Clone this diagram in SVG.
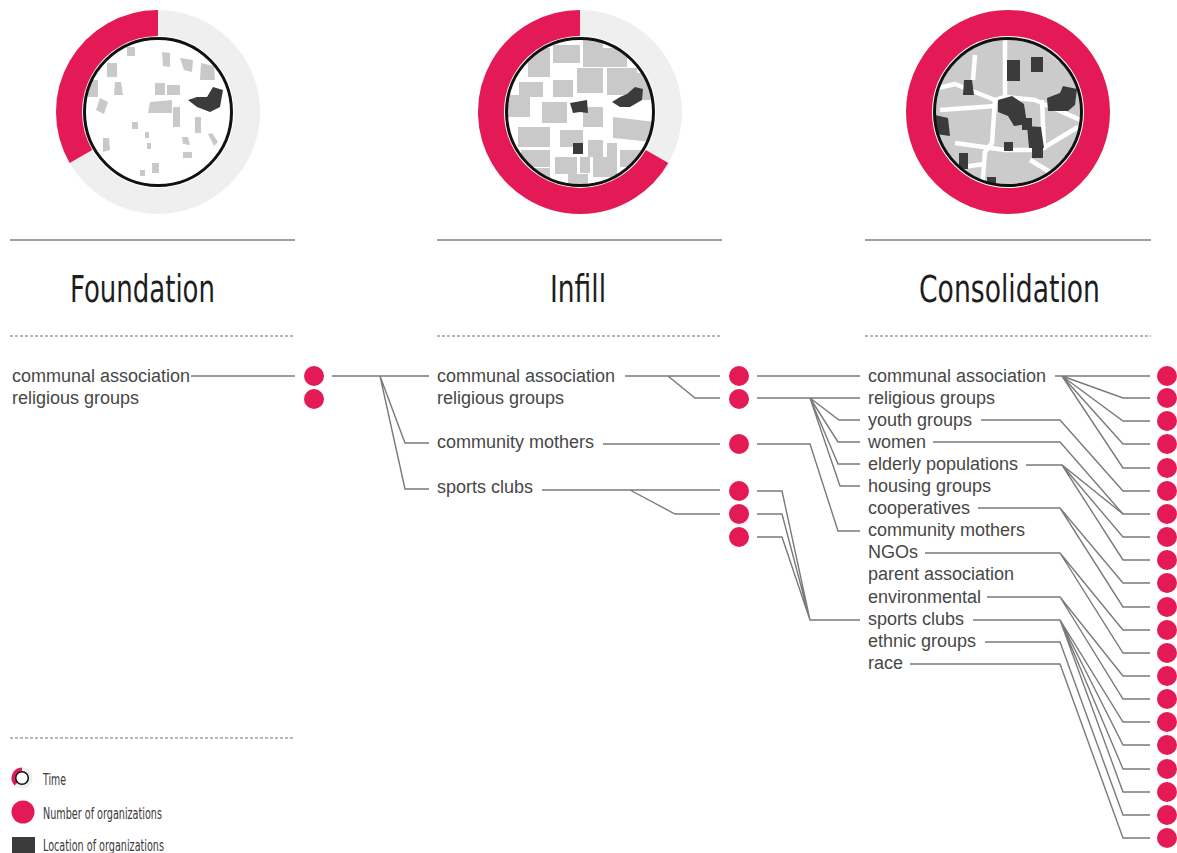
<svg xmlns="http://www.w3.org/2000/svg" width="1177" height="853" viewBox="0 0 1177 853">
<style>
.lbl{font-family:"Liberation Sans",Arial,sans-serif;font-size:18px;fill:#474747}
.ttl{font-family:"Liberation Sans Narrow","DejaVu Sans Condensed","Liberation Sans",sans-serif;font-size:37px;fill:#1e1e1e}
.leg{font-family:"Liberation Sans Narrow","DejaVu Sans Condensed","Liberation Sans",sans-serif;font-size:15.5px;fill:#3a3a3a}
.rule{stroke:#808080;stroke-width:1.5;fill:none}
.dash{stroke:#707070;stroke-width:1.2;stroke-dasharray:3 2;fill:none}
.con{stroke:#7a7a7a;stroke-width:1.4;fill:none}
.dot{fill:#e41a56}
.ringbg{fill:none;stroke:#efefef;stroke-width:26}
.ringfg{fill:none;stroke:#e41a56;stroke-width:26}
.edge{fill:none;stroke:#111;stroke-width:3}
.bg{fill:#c9c9c9}
.dk{fill:#3b3b3b}
</style>
<defs>
<clipPath id="c1"><circle cx="158" cy="112" r="73"/></clipPath>
<clipPath id="c2"><circle cx="580" cy="112" r="73"/></clipPath>
<clipPath id="c3"><circle cx="1008" cy="112" r="73"/></clipPath>
</defs>
<rect width="1177" height="853" fill="#fff"/>

<!-- Foundation ring -->
<g id="ring-foundation">
<circle class="ringbg" cx="158" cy="112" r="89"/>
<path class="ringfg" d="M80.92 156.5 A89 89 0 0 1 158 23"/>
<circle cx="158" cy="112" r="73" fill="#fff"/>
<g clip-path="url(#c1)">
<rect class="bg" x="127" y="47" width="8" height="9"/>
<rect class="bg" x="107" y="63" width="10" height="14"/>
<rect class="bg" x="88" y="80" width="10" height="17"/>
<polygon class="bg" points="115,82 121,82 123,95 114,95"/>
<polygon class="bg" points="100,98 108,102 104,114 96,110"/>
<polygon class="bg" points="162,52 170,53 170,67 163,66"/>
<polygon class="bg" points="180,58 193,60 192,72 184,70"/>
<polygon class="bg" points="201,63 214,66 215,80 200,80"/>
<rect class="bg" x="155" y="83" width="10" height="12"/>
<rect class="bg" x="167" y="85" width="13" height="10"/>
<polygon class="bg" points="150,102 172,100 172,113 148,113"/>
<rect class="bg" x="173" y="107" width="7" height="20"/>
<rect class="bg" x="132" y="122" width="6" height="7"/>
<rect class="bg" x="145" y="132" width="4" height="6"/>
<rect class="bg" x="147" y="143" width="4" height="6"/>
<polygon class="bg" points="103,138 109,138 110,150 103,152"/>
<polygon class="bg" points="182,137 188,137 190,145 183,144"/>
<rect class="bg" x="195" y="117" width="6" height="16"/>
<polygon class="bg" points="208,134 212,133 218,142 214,146"/>
<rect class="bg" x="183" y="152" width="9" height="6"/>
<rect class="bg" x="152" y="163" width="7" height="10"/>
<rect class="bg" x="140" y="170" width="5" height="6"/>
<polygon class="dk" points="188,100 197,97 207,97 213,87 223,90 220,107 210,112 197,107"/>
</g>
<circle class="edge" cx="158" cy="112" r="73.5"/>
</g>

<!-- Infill ring -->
<g id="ring-infill">
<circle class="ringbg" cx="580" cy="112" r="89"/>
<path class="ringfg" d="M657.08 156.5 A89 89 0 1 1 580 23"/>
<circle cx="580" cy="112" r="73" fill="#fff"/>
<g clip-path="url(#c2)">
<rect class="bg" x="553" y="45" width="27" height="18"/>
<rect class="bg" x="583" y="40" width="20" height="27"/>
<rect class="bg" x="603" y="48" width="24" height="19"/>
<rect class="bg" x="528" y="48" width="22" height="29"/>
<rect class="bg" x="519" y="82" width="24" height="15"/>
<rect class="bg" x="506" y="95" width="24" height="22"/>
<rect class="bg" x="553" y="80" width="20" height="17"/>
<rect class="bg" x="577" y="68" width="26" height="25"/>
<rect class="bg" x="607" y="68" width="30" height="27"/>
<rect class="bg" x="634" y="73" width="20" height="27"/>
<rect class="bg" x="542" y="102" width="25" height="21"/>
<rect class="bg" x="583" y="107" width="20" height="20"/>
<polygon class="bg" points="613,117 655,122 652,142 613,138"/>
<rect class="bg" x="518" y="127" width="32" height="20"/>
<rect class="bg" x="521" y="150" width="29" height="17"/>
<rect class="bg" x="560" y="130" width="23" height="17"/>
<rect class="bg" x="588" y="140" width="15" height="17"/>
<rect class="bg" x="607" y="143" width="10" height="14"/>
<rect class="bg" x="555" y="157" width="22" height="17"/>
<rect class="bg" x="580" y="157" width="10" height="16"/>
<rect class="bg" x="593" y="157" width="24" height="20"/>
<rect class="bg" x="620" y="150" width="24" height="17"/>
<rect class="bg" x="568" y="174" width="20" height="12"/>
<rect class="bg" x="530" y="168" width="20" height="12"/>
<polygon class="dk" points="570,103 587,100 588,113 580,112 573,113"/>
<polygon class="dk" points="612,102 620,97 627,94 635,87 643,89 642,100 630,107 620,107"/>
<rect class="dk" x="573" y="143" width="10" height="11"/>
</g>
<circle class="edge" cx="580" cy="112" r="73.5"/>
</g>

<!-- Consolidation ring -->
<g id="ring-consolidation">
<circle class="ringfg" cx="1008" cy="112" r="89"/>
<circle cx="1008" cy="112" r="73" fill="#fff"/>
<g clip-path="url(#c3)">
<circle cx="1008" cy="112" r="73" fill="#cbcbcb"/>
<g stroke="#fff" stroke-width="4.5" fill="none" stroke-linejoin="round">
<polyline points="930,90 955,84 995,100 1005,97 1035,100 1085,122"/>
<polyline points="1005,35 1005,97"/>
<polyline points="995,100 992,143 985,152 982,190"/>
<polyline points="940,110 995,106"/>
<polyline points="955,143 1005,150 1040,150 1078,127"/>
<polyline points="1042,100 1044,150"/>
<polyline points="975,55 973,80"/>
<polyline points="940,170 985,164"/>
<polyline points="1030,160 1060,178"/>
<polyline points="1040,42 1060,60"/>
</g>
<rect class="dk" x="1007" y="60" width="13" height="21"/>
<rect class="dk" x="1031" y="57" width="12" height="15"/>
<polygon class="dk" points="964,80 972,80 974,95 963,95"/>
<polygon class="dk" points="998,100 1012,96 1024,104 1027,124 1014,126 1008,116 998,112"/>
<polygon class="dk" points="1047,98 1060,93 1063,86 1077,89 1075,105 1068,111 1048,111"/>
<polygon class="dk" points="1027,126 1041,127 1044,148 1029,148"/>
<rect class="dk" x="1032" y="148" width="11" height="10"/>
<rect class="dk" x="1004" y="142" width="9" height="9"/>
<polygon class="dk" points="935,115 948,118 950,136 936,134"/>
<rect class="dk" x="959" y="153" width="9" height="16"/>
<rect class="dk" x="987" y="177" width="9" height="8"/>
<rect class="dk" x="1022" y="118" width="10" height="12"/>
</g>
<circle class="edge" cx="1008" cy="112" r="73.5"/>
</g>

<!-- rules -->
<g id="rules">
<line class="rule" x1="10" y1="240" x2="295" y2="240"/>
<line class="rule" x1="437" y1="240" x2="722" y2="240"/>
<line class="rule" x1="865" y1="240" x2="1151" y2="240"/>
<line class="dash" x1="10" y1="336" x2="295" y2="336"/>
<line class="dash" x1="437" y1="336" x2="722" y2="336"/>
<line class="dash" x1="865" y1="336" x2="1151" y2="336"/>
<line class="dash" x1="10" y1="738" x2="295" y2="738"/>
</g>

<!-- titles -->
<g id="title-foundation"><text class="ttl" x="70" y="302" textLength="145" lengthAdjust="spacingAndGlyphs">Foundation</text></g>
<g id="title-infill"><text class="ttl" x="550" y="302" textLength="56" lengthAdjust="spacingAndGlyphs">Infill</text></g>
<g id="title-consolidation"><text class="ttl" x="919" y="302" textLength="181" lengthAdjust="spacingAndGlyphs">Consolidation</text></g>

<!-- connectors -->
<g id="connectors">
<path class="con" d="M191 376 H295"/>
<path class="con" d="M332 376 H429 M380 376 L405 443 H429 M380 376 L405 489 H429"/>
<path class="con" d="M625 376 H720 M668 376 L695 398 H720"/>
<path class="con" d="M603 444 H720"/>
<path class="con" d="M542 490 H720 M630 490 L675 514 H720"/>
<path class="con" d="M757 376 H860"/>
<path class="con" d="M757 398 H860 M810 398 L839 420 H860 M810 398 L838 442 H860 M810 398 L838 464 H860 M810 398 L840 486 H860"/>
<path class="con" d="M757 444 H810 L838 531 H860"/>
<path class="con" d="M757 491 H782 L810 620 H860 M757 514 H782 L810 620 M757 537 H782 L810 620"/>
<path class="con" d="M1055 376 H1150 M1062 376 L1123 398 H1150 M1062 376 L1123 421 H1150 M1062 376 L1123 444 H1150 M1062 376 L1123 468 H1150"/>
<path class="con" d="M981 420 H1060 L1123 491 H1150"/>
<path class="con" d="M933 442 H1060 L1123 514 H1150"/>
<path class="con" d="M1026 465 H1062 L1123 514 M1062 465 L1123 537 H1150 M1062 465 L1123 560 H1150"/>
<path class="con" d="M978 508 H1060 L1123 583 H1150 M1060 508 L1123 607 H1150"/>
<path class="con" d="M925 553 H1060 L1123 630 H1150 M1060 553 L1123 653 H1150"/>
<path class="con" d="M987 597 H1060 L1123 676 H1150 M1060 597 L1123 699 H1150"/>
<path class="con" d="M973 620 H1060 L1123 722 H1150 M1060 620 L1123 745 H1150 M1060 620 L1123 769 H1150 M1060 620 L1123 792 H1150"/>
<path class="con" d="M985 642 H1060 L1123 815 H1150"/>
<path class="con" d="M910 664 H1060 L1123 838 H1150"/>
</g>

<!-- Foundation labels & dots -->
<g id="foundation-labels">
<text class="lbl" x="12" y="382">communal association</text>
<text class="lbl" x="12" y="404">religious groups</text>
</g>
<g id="foundation-dots">
<circle class="dot" cx="314" cy="376" r="10"/>
<circle class="dot" cx="314" cy="399" r="10"/>
</g>

<!-- Infill labels & dots -->
<g id="infill-labels">
<text class="lbl" x="437" y="382">communal association</text>
<text class="lbl" x="437" y="404">religious groups</text>
<text class="lbl" x="437" y="448">community mothers</text>
<text class="lbl" x="437" y="493">sports clubs</text>
</g>
<g id="infill-dots">
<circle class="dot" cx="739" cy="376" r="10"/>
<circle class="dot" cx="739" cy="399" r="10"/>
<circle class="dot" cx="739" cy="444" r="10"/>
<circle class="dot" cx="739" cy="491" r="10"/>
<circle class="dot" cx="739" cy="514" r="10"/>
<circle class="dot" cx="739" cy="537" r="10"/>
</g>

<!-- Consolidation labels & dots -->
<g id="consolidation-labels">
<text class="lbl" x="868" y="382">communal association</text>
<text class="lbl" x="868" y="404">religious groups</text>
<text class="lbl" x="868" y="426">youth groups</text>
<text class="lbl" x="868" y="448">women</text>
<text class="lbl" x="868" y="470">elderly populations</text>
<text class="lbl" x="868" y="492">housing groups</text>
<text class="lbl" x="868" y="514">cooperatives</text>
<text class="lbl" x="868" y="536">community mothers</text>
<text class="lbl" x="868" y="558">NGOs</text>
<text class="lbl" x="868" y="580">parent association</text>
<text class="lbl" x="868" y="603">environmental</text>
<text class="lbl" x="868" y="625">sports clubs</text>
<text class="lbl" x="868" y="647">ethnic groups</text>
<text class="lbl" x="868" y="669">race</text>
</g>
<g id="consolidation-dots">
<circle class="dot" cx="1167" cy="376" r="10"/>
<circle class="dot" cx="1167" cy="398" r="10"/>
<circle class="dot" cx="1167" cy="421" r="10"/>
<circle class="dot" cx="1167" cy="444" r="10"/>
<circle class="dot" cx="1167" cy="468" r="10"/>
<circle class="dot" cx="1167" cy="491" r="10"/>
<circle class="dot" cx="1167" cy="514" r="10"/>
<circle class="dot" cx="1167" cy="537" r="10"/>
<circle class="dot" cx="1167" cy="560" r="10"/>
<circle class="dot" cx="1167" cy="583" r="10"/>
<circle class="dot" cx="1167" cy="607" r="10"/>
<circle class="dot" cx="1167" cy="630" r="10"/>
<circle class="dot" cx="1167" cy="653" r="10"/>
<circle class="dot" cx="1167" cy="676" r="10"/>
<circle class="dot" cx="1167" cy="699" r="10"/>
<circle class="dot" cx="1167" cy="722" r="10"/>
<circle class="dot" cx="1167" cy="745" r="10"/>
<circle class="dot" cx="1167" cy="769" r="10"/>
<circle class="dot" cx="1167" cy="792" r="10"/>
<circle class="dot" cx="1167" cy="815" r="10"/>
<circle class="dot" cx="1167" cy="838" r="10"/>
</g>

<!-- Legend -->
<g id="legend">
<g id="legend-time">
<circle cx="22" cy="778" r="8.5" fill="none" stroke="#eee" stroke-width="4"/>
<path d="M16 784 A8.5 8.5 0 0 1 22 769.5" fill="none" stroke="#e41a56" stroke-width="4"/>
<circle cx="22" cy="778" r="6.3" fill="#fff" stroke="#111" stroke-width="1.6"/>
<text class="leg" x="43" y="785" textLength="23" lengthAdjust="spacingAndGlyphs">Time</text>
</g>
<g id="legend-number">
<circle class="dot" cx="23" cy="812" r="11.5"/>
<text class="leg" x="43" y="819" textLength="119" lengthAdjust="spacingAndGlyphs">Number of organizations</text>
</g>
<g id="legend-location">
<rect x="12" y="837" width="23" height="16" fill="#3b3b3b"/>
<text class="leg" x="43" y="851" textLength="121" lengthAdjust="spacingAndGlyphs">Location of organizations</text>
</g>
</g>
</svg>
